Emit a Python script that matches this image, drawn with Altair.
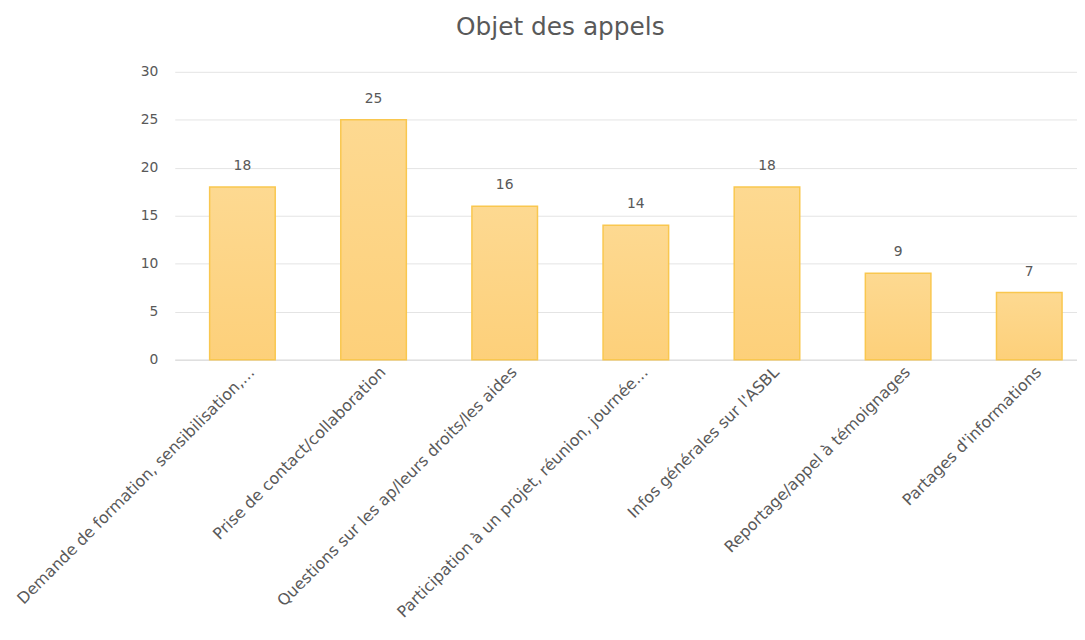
import altair as alt
import pandas as pd

categories = [
    "Demande de formation, sensibilisation,…",
    "Prise de contact/collaboration",
    "Questions sur les ap/leurs droits/les aides",
    "Participation à un projet, réunion, journée…",
    "Infos générales sur l'ASBL",
    "Reportage/appel à témoignages",
    "Partages d'informations",
]
values = [18, 25, 16, 14, 18, 9, 7]

df = pd.DataFrame({"cat": categories, "val": values})

FONT = "DejaVu Sans"
GRAY = "#595959"

x = alt.X(
    "cat:N",
    sort=categories,
    title=None,
    scale=alt.Scale(paddingInner=0.5, paddingOuter=0.19, align=0.70, round=False),
    axis=alt.Axis(
        labelAngle=-45,
        labelAlign="right",
        labelBaseline="top",
        labelFont=FONT,
        labelFontSize=16,
        labelColor=GRAY,
        labelLimit=400,
        labelPadding=4,
        labelOffset=4,
        ticks=False,
        domain=True,
        domainColor="#d9d9d9",
    ),
)

y = alt.Y(
    "val:Q",
    title=None,
    scale=alt.Scale(domain=[0, 30]),
    axis=alt.Axis(
        values=[0, 5, 10, 15, 20, 25, 30],
        labelFont=FONT,
        labelFontSize=14,
        labelColor=GRAY,
        labelPadding=17,
        ticks=False,
        domain=False,
        grid=True,
        gridColor="#e4e4e4",
        gridWidth=1,
    ),
)

bars = alt.Chart(df).mark_bar(
    color=alt.LinearGradient(
        gradient="linear",
        x1=0, x2=0, y1=0, y2=1,
        stops=[
            alt.GradientStop(color="#FDD991", offset=0),
            alt.GradientStop(color="#FDD07A", offset=1),
        ],
    ),
    stroke="#F9C74F",
    strokeWidth=1.5,
).encode(x=x, y=y)

text = alt.Chart(df).mark_text(
    dy=-21, font=FONT, fontSize=14, color=GRAY
).encode(x=alt.X("cat:N", sort=categories), y="val:Q", text="val:Q")

chart = (
    alt.layer(bars, text)
    .properties(
        width=909,
        height=290,
        title=alt.TitleParams(
            "Objet des appels",
            font=FONT,
            fontSize=25,
            fontWeight="normal",
            color=GRAY,
            anchor="middle",
            dx=-66,
            offset=25,
        ),
        autosize=alt.AutoSizeParams(type="none"),
        padding={"left": 168, "top": 62, "right": 0, "bottom": 262},
    )
    .configure_view(stroke=None)
)

chart.save("out.html", embed_options={"renderer": "svg", "actions": False})
